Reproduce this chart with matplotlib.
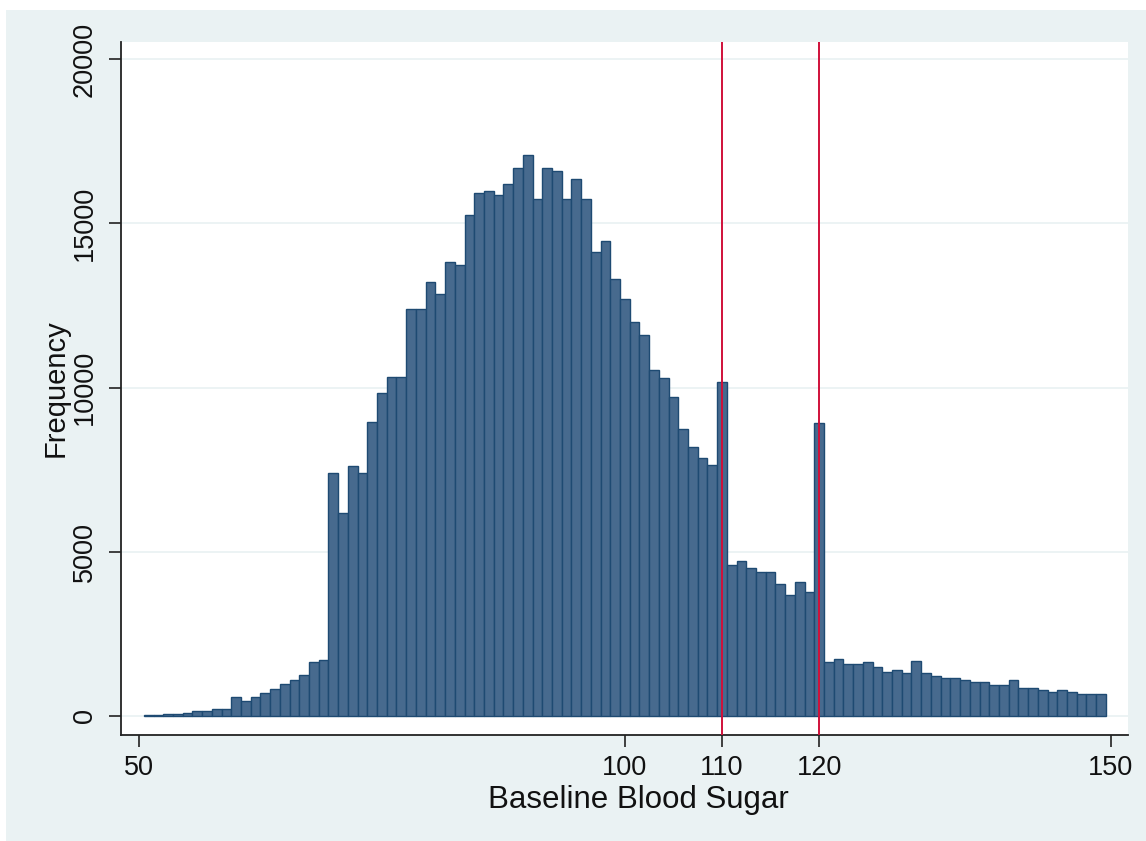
import matplotlib
matplotlib.use("Agg")
import matplotlib.pyplot as plt
import numpy as np

plt.rcParams['font.family'] = ['Liberation Sans', 'DejaVu Sans']

# Data: histogram of baseline blood sugar (bins of width 1, centred on integers)
bin_centers = list(range(51, 150))
counts = [
    30, 40, 70, 70, 80, 140, 140, 200, 200,            # 51-59
    590, 470, 590, 690, 810, 970, 1090, 1240, 1640, 1700,  # 60-69
    7400, 6170, 7600, 7400, 8950, 9830, 10330, 10330, 12400, 12400,  # 70-79
    13230, 12860, 13830, 13740, 15250, 15930, 15980, 15870, 16200, 16680,  # 80-89
    17080, 15760, 16680, 16590, 15760, 16360, 15760, 14130, 14460, 13300,  # 90-99
    12690, 11990, 11600, 10550, 10280, 9730, 8740, 8190, 7860, 7630,  # 100-109
    10170, 4610, 4720, 4500, 4390, 4390, 4010, 3690, 4070, 3790,  # 110-119
    8910, 1640, 1740, 1570, 1570, 1630, 1500, 1350, 1400, 1300,  # 120-129
    1680, 1300, 1230, 1170, 1170, 1110, 1020, 1020, 950, 950,  # 130-139
    1110, 840, 840, 790, 740, 790, 740, 680, 680, 680,  # 140-149
]
x_ticks = [50, 100, 110, 120, 150]
y_ticks = [0, 5000, 10000, 15000, 20000]
ref_lines = [110, 120]

W, H = 1146, 841
fig = plt.figure(figsize=(W / 100, H / 100), dpi=100, facecolor='white')
bg = '#EAF2F3'
# background panel (white margin at top/left)
fig.patches.append(plt.Rectangle((6 / W, 0), 1 - 6 / W, 1 - 10 / H,
                                 transform=fig.transFigure, facecolor=bg,
                                 edgecolor='none', zorder=-10))

left, right, top, bottom = 121, 1128, 42, 735
ax = fig.add_axes([left / W, 1 - bottom / H, (right - left) / W, (bottom - top) / H])
ax.set_facecolor('white')

ax.bar(bin_centers, counts, width=1.0, align='center', color='#476A8E',
       edgecolor='#1E4A72', linewidth=1.0, zorder=3)

for v in ref_lines:
    ax.axvline(v, color='#D0103A', linewidth=1.4, zorder=4)

ax.set_xlim(48.15, 151.78)
ax.set_ylim(-579, 20527)
ax.set_xticks(x_ticks)
ax.set_xticklabels([str(t) for t in x_ticks])
ax.set_yticks(y_ticks)
ax.set_yticklabels([str(t) for t in y_ticks], rotation=90, va='center')

ax.yaxis.grid(True, color=bg, linewidth=1.3, zorder=0)
ax.set_axisbelow(True)

for s in ['top', 'right']:
    ax.spines[s].set_visible(False)
for s in ['left', 'bottom']:
    ax.spines[s].set_color('#222222')
    ax.spines[s].set_linewidth(1.3)

ax.tick_params(axis='x', length=8.5, width=1.2, color='#222222', pad=6,
               labelsize=19.5, labelcolor='#111111')
ax.tick_params(axis='y', length=8.5, width=1.2, color='#222222', pad=8,
               labelsize=19.5, labelcolor='#111111')

fig.text(638 / W, 1 - 808 / H, 'Baseline Blood Sugar', ha='center',
         va='baseline', fontsize=22.5, color='#111111')
fig.text(55.5 / W, 1 - 388 / H, 'Frequency', ha='center', va='center',
         rotation=90, fontsize=21, color='#111111')

fig.savefig('out.png', dpi=100, facecolor='white')
